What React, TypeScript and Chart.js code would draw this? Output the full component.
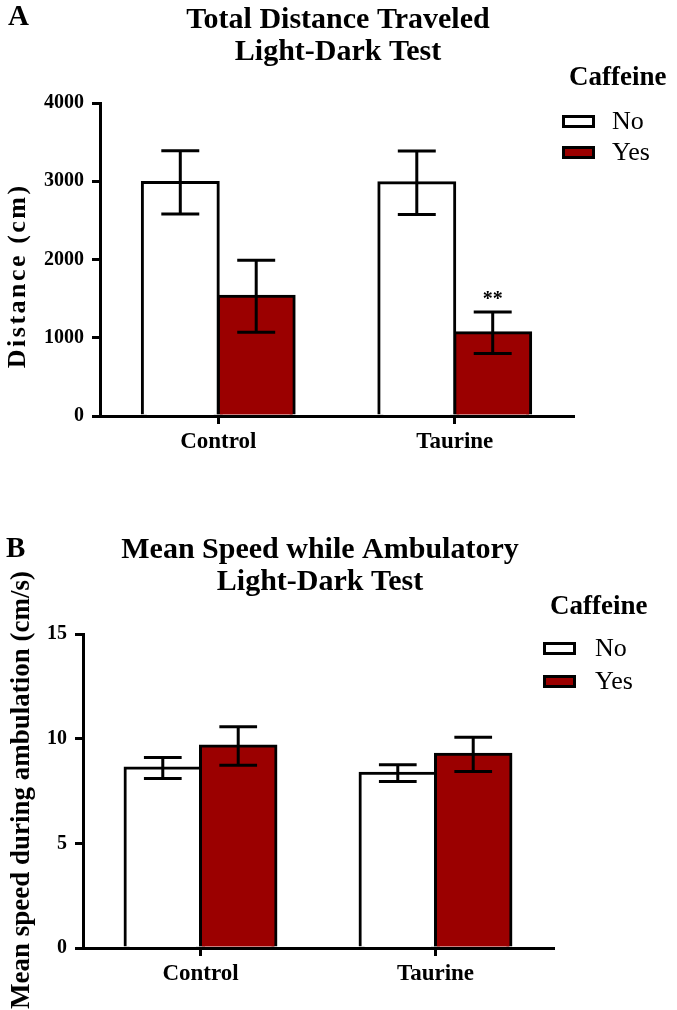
import React, { useEffect, useRef } from "react";
import { Chart, registerables } from "chart.js";

Chart.register(...registerables);

// ---------- data ----------
const groups = ["Control", "Taurine"];
const caffeineLabels = ["No", "Yes"];

const distanceNo = [2985, 2980];
const distanceNoErr = [405, 405];
const distanceYes = [1530, 1065];
const distanceYesErr = [460, 265];
const distanceYesMarks = ["", "**"];
const distanceTicks = [0, 1000, 2000, 3000, 4000];

const speedNo = [8.6, 8.35];
const speedNoErr = [0.5, 0.4];
const speedYes = [9.65, 9.25];
const speedYesErr = [0.92, 0.82];
const speedTicks = [0, 5, 10, 15];

// ---------- style ----------
const SERIF = '"Liberation Serif", "Times New Roman", serif';
const RED = "#9b0000";
const W = 677;

const panelPlugin = {
  id: "panelDecor",
  afterDatasetsDraw(chart: any, _args: any, opts: any) {
    const ctx = chart.ctx;
    const ys = chart.scales.y;
    chart.data.datasets.forEach((ds: any, di: number) => {
      const meta = chart.getDatasetMeta(di);
      meta.data.forEach((bar: any, i: number) => {
        const v = ds.data[i];
        const e = opts.errors[di][i];
        const x = bar.x;
        const hw = bar.width * 0.25;
        const yt = ys.getPixelForValue(v + e);
        const yb = ys.getPixelForValue(v - e);
        ctx.save();
        ctx.strokeStyle = "#000";
        ctx.lineWidth = 3;
        ctx.beginPath();
        ctx.moveTo(x, yt);
        ctx.lineTo(x, yb);
        ctx.moveTo(x - hw, yt);
        ctx.lineTo(x + hw, yt);
        ctx.moveTo(x - hw, yb);
        ctx.lineTo(x + hw, yb);
        ctx.stroke();
        const mark = opts.marks[di][i];
        if (mark) {
          ctx.fillStyle = "#000";
          ctx.font = `bold 20px ${SERIF}`;
          ctx.textAlign = "center";
          ctx.textBaseline = "alphabetic";
          ctx.fillText(mark, x, yt - 7);
        }
        ctx.restore();
      });
    });
  },
  afterDraw(chart: any, _args: any, opts: any) {
    const ctx = chart.ctx;
    ctx.save();
    ctx.fillStyle = "#000";
    // panel letter
    ctx.font = `bold 29px ${SERIF}`;
    ctx.textAlign = "left";
    ctx.textBaseline = "middle";
    ctx.fillText(opts.letter, opts.letterPos[0], opts.letterPos[1]);
    // title
    ctx.textAlign = "center";
    ctx.font = `bold 30px ${SERIF}`;
    opts.titleLines.forEach((t: string, i: number) => {
      ctx.fillText(t, opts.titleX, opts.titleY[i]);
    });
    // legend
    ctx.textAlign = "left";
    ctx.font = `bold 27px ${SERIF}`;
    ctx.fillText(opts.legendTitle, opts.legendTitlePos[0], opts.legendTitlePos[1]);
    ctx.font = `26px ${SERIF}`;
    chart.data.datasets.forEach((ds: any, di: number) => {
      const ry = opts.legendRowY[di];
      ctx.fillStyle = ds.backgroundColor;
      ctx.fillRect(opts.legendBoxX, ry - 6, 33, 13);
      ctx.strokeStyle = "#000";
      ctx.lineWidth = 3;
      ctx.strokeRect(opts.legendBoxX + 1.5, ry - 6 + 1.5, 33 - 3, 13 - 3);
      ctx.fillStyle = "#000";
      ctx.fillText(ds.label, opts.legendTextX, ry + 1);
    });
    // y title
    ctx.translate(opts.yTitlePos[0], opts.yTitlePos[1]);
    ctx.rotate(-Math.PI / 2);
    ctx.textAlign = "center";
    ctx.textBaseline = "middle";
    ctx.font = `bold ${opts.yTitleSize}px ${SERIF}`;
    (ctx as any).letterSpacing = `${opts.yTitleSpacing}px`;
    ctx.fillText(opts.yTitle, opts.yTitleSpacing / 2, 0);
    ctx.restore();
  },
};

function buildConfig(
  noVals: number[],
  yesVals: number[],
  ticks: number[],
  padding: any,
  yWidth: number,
  decor: any
) {
  const tickSet = ticks;
  const barStyle = {
    borderColor: "#000000",
    borderWidth: 3,
    borderSkipped: "start",
    barPercentage: 1,
    categoryPercentage: 0.642,
    inflateAmount: 1.5,
  };
  return {
    type: "bar" as const,
    data: {
      labels: groups,
      datasets: [
        { label: caffeineLabels[0], data: noVals, backgroundColor: "#ffffff", ...barStyle },
        { label: caffeineLabels[1], data: yesVals, backgroundColor: RED, ...barStyle },
      ],
    },
    options: {
      responsive: false,
      animation: false,
      devicePixelRatio: 1,
      layout: { padding },
      events: [],
      plugins: {
        legend: { display: false },
        tooltip: { enabled: false },
        title: { display: false },
        panelDecor: decor,
      },
      scales: {
        x: {
          z: 1,
          offset: true,
          grid: {
            offset: false,
            drawOnChartArea: false,
            drawTicks: true,
            tickLength: 8,
            tickWidth: 3,
            tickColor: "#000",
            color: "#000",
            lineWidth: 3,
          },
          border: { display: true, color: "#000", width: 3 },
          ticks: {
            color: "#000",
            padding: 4,
            font: { family: SERIF, size: 23, weight: "bold" },
            maxRotation: 0,
          },
          afterFit: (s: any) => {
            s.height = 40;
          },
        },
        y: {
          z: 1,
          min: tickSet[0],
          max: tickSet[tickSet.length - 1],
          afterBuildTicks: (s: any) => {
            s.ticks = tickSet.map((v) => ({ value: v }));
          },
          grid: {
            drawOnChartArea: false,
            drawTicks: true,
            tickLength: 8,
            tickWidth: 3,
            tickColor: "#000",
            color: "#000",
            lineWidth: 3,
          },
          border: { display: true, color: "#000", width: 3 },
          ticks: {
            color: "#000",
            padding: 8,
            font: { family: SERIF, size: 20, weight: "bold" },
            callback: (v: any) => String(v),
          },
          afterFit: (s: any) => {
            s.width = yWidth;
          },
        },
      },
    },
    plugins: [panelPlugin],
  };
}

function ChartCanvas({ config, width, height, top }: any) {
  const ref = useRef<HTMLCanvasElement | null>(null);
  useEffect(() => {
    if (!ref.current) return;
    const c = new Chart(ref.current, config);
    return () => c.destroy();
  }, []);
  return (
    <canvas
      ref={ref}
      width={width}
      height={height}
      style={{ position: "absolute", left: 0, top, width, height, display: "block" }}
    />
  );
}

export default function App() {
  const configA = buildConfig(
    distanceNo,
    distanceYes,
    distanceTicks,
    { left: 0, right: W - 573, top: 103, bottom: 24 },
    100,
    {
      letter: "A",
      letterPos: [8, 18],
      titleLines: ["Total Distance Traveled", "Light-Dark Test"],
      titleX: 338,
      titleY: [20, 52],
      legendTitle: "Caffeine",
      legendTitlePos: [569, 78],
      legendBoxX: 562,
      legendTextX: 612,
      legendRowY: [121, 152],
      yTitle: "Distance (cm)",
      yTitlePos: [18, 277],
      yTitleSize: 26,
      yTitleSpacing: 2.5,
      errors: [distanceNoErr, distanceYesErr],
      marks: [["", ""], distanceYesMarks],
    }
  );
  const configB = buildConfig(
    speedNo,
    speedYes,
    speedTicks,
    { left: 0, right: W - 553, top: 154, bottom: 22 },
    83,
    {
      letter: "B",
      letterPos: [6, 70],
      titleLines: ["Mean Speed while Ambulatory", "Light-Dark Test"],
      titleX: 320,
      titleY: [70, 102],
      legendTitle: "Caffeine",
      legendTitlePos: [550, 127],
      legendBoxX: 543,
      legendTextX: 595,
      legendRowY: [168, 201],
      yTitle: "Mean speed during ambulation (cm/s)",
      yTitlePos: [22, 310],
      yTitleSize: 27,
      yTitleSpacing: 0,
      errors: [speedNoErr, speedYesErr],
      marks: [["", ""], ["", ""]],
    }
  );
  return (
    <div style={{ position: "absolute", left: 0, top: 0, width: W, height: 1010, background: "#fff" }}>
      <ChartCanvas config={configA} width={W} height={480} top={0} />
      <ChartCanvas config={configB} width={W} height={530} top={480} />
    </div>
  );
}
